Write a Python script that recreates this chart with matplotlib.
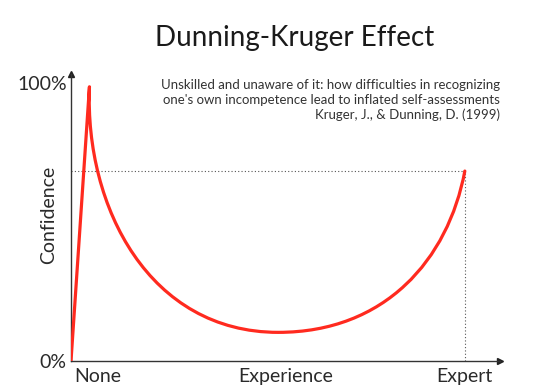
import matplotlib.pyplot as plt
from matplotlib.path import Path
from matplotlib.patches import PathPatch

# curve nodes (data units: experience 0-100, confidence 0-100%)
curve_x = [0, 4.3, 3.2, 18.4, 48.3, 73.2, 87.9, 91.8]
curve_y = [0, 98.6, 55.0, 10.3, 10.3, 10.3, 36.4, 68.3]
curve_codes = [Path.MOVETO, Path.LINETO,
               Path.CURVE4, Path.CURVE4, Path.CURVE4,
               Path.CURVE4, Path.CURVE4, Path.CURVE4]

expert_x, expert_y = 91.8, 68.3

x_ticks = [6.3, 50, 91.6]
x_labels = ['None', 'Experience', 'Expert']
y_ticks = [0, 100]
y_labels = ['0%', '100%']

title = 'Dunning-Kruger Effect'
citation = ("Unskilled and unaware of it: how difficulties in recognizing\n"
            "one's own incompetence lead to inflated self-assessments\n"
            "Kruger, J., & Dunning, D. (1999)")

plt.rcParams['font.family'] = ['Lato', 'DejaVu Sans']

fig = plt.figure(figsize=(5.4, 3.92), dpi=100)
ax = fig.add_axes([71 / 540, 31 / 392, 429 / 540, 287 / 392])
ax.set_xlim(0, 100)
ax.set_ylim(0, 103.2)

path = Path(list(zip(curve_x, curve_y)), curve_codes)
ax.add_patch(PathPatch(path, facecolor='none', edgecolor='#ff2a1f', lw=2.3,
                       capstyle='round', joinstyle='round', zorder=3))

ax.plot([0, expert_x], [expert_y, expert_y], ls=(0, (1, 2)), color='#555555', lw=0.8)
ax.plot([expert_x, expert_x], [0, expert_y], ls=(0, (1, 2)), color='#555555', lw=0.8)

for s in ['top', 'right']:
    ax.spines[s].set_visible(False)
for s in ['left', 'bottom']:
    ax.spines[s].set_color('#333333')
    ax.spines[s].set_linewidth(1.0)
ax.plot(1, 0, '>', color='#222222', ms=4, transform=ax.transAxes, clip_on=False)
ax.plot(0, 1, '^', color='#222222', ms=4, transform=ax.transAxes, clip_on=False)

ax.set_xticks(x_ticks)
ax.set_xticklabels(x_labels, fontsize=14, color='#2a2a2a')
ax.set_yticks(y_ticks)
ax.set_yticklabels(y_labels, fontsize=14, color='#2a2a2a')
ax.tick_params(axis='x', length=0, pad=5)
ax.tick_params(axis='y', length=0, pad=3)
ax.set_ylabel('Confidence', fontsize=14, color='#2a2a2a')
ax.yaxis.set_label_coords(-0.033, 0.51)

fig.text(295 / 540, 1 - 38 / 392, title, ha='center', va='center',
         fontsize=20, color='#1a1a1a')
fig.text(500 / 540, 1 - 100 / 392, citation, ha='right', va='center',
         fontsize=9.5, color='#333333', linespacing=1.3)

fig.savefig('out.png', dpi=100)
